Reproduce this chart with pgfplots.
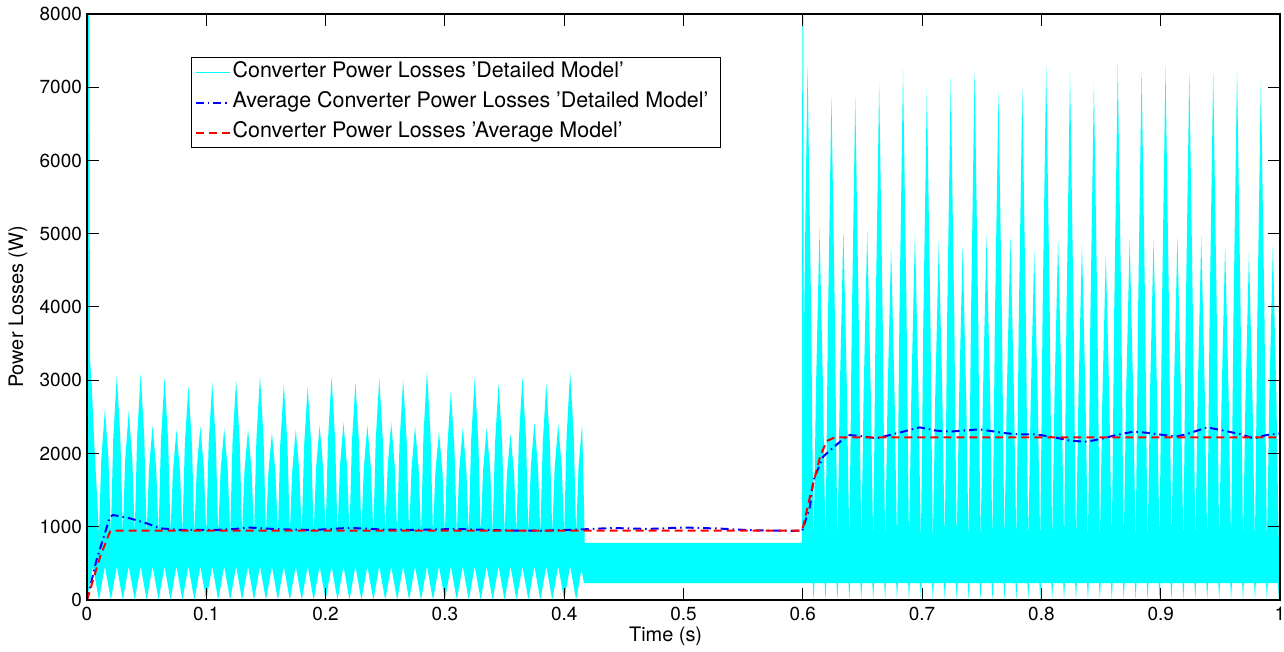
\documentclass[border=0pt]{standalone}
\usepackage{fontspec}
\setmainfont{TeX Gyre Heros}
\usepackage{pgfplots}
\usepackage{pgfplotstable}
\pgfplotsset{compat=1.18}
\usepgfplotslibrary{fillbetween}
\definecolor{scopecyan}{RGB}{0,255,255}

% Upper envelope of the switched converter loss signal (W)
\pgfplotstableread{
t p
0 8600
0.0018 8600
0.0025 3300
0.004 2900
0.0065 2000
0.0085 1400
0.010 900
0.012 1922
0.015 2603
0.018 1922
0.020 900
0.022 2203
0.025 3072
0.028 2203
0.030 900
0.032 1908
0.035 2580
0.038 1908
0.040 900
0.042 2216
0.045 3094
0.048 2216
0.050 900
0.052 1791
0.055 2385
0.058 1791
0.060 900
0.062 2184
0.065 3040
0.068 2184
0.070 900
0.072 1753
0.075 2321
0.078 1753
0.080 900
0.082 2116
0.085 2926
0.088 2116
0.090 900
0.092 1783
0.095 2371
0.098 1783
0.100 900
0.102 2143
0.105 2972
0.108 2143
0.110 900
0.112 1766
0.115 2344
0.118 1766
0.120 900
0.122 2162
0.125 3003
0.128 2162
0.130 900
0.132 1760
0.135 2334
0.138 1760
0.140 900
0.142 2195
0.145 3058
0.148 2195
0.150 900
0.152 1731
0.155 2285
0.158 1731
0.160 900
0.162 2129
0.165 2949
0.168 2129
0.170 900
0.172 1753
0.175 2321
0.178 1753
0.180 900
0.182 2107
0.185 2912
0.188 2107
0.190 900
0.192 1791
0.195 2385
0.198 1791
0.200 900
0.202 2189
0.205 3049
0.208 2189
0.210 900
0.212 1813
0.215 2421
0.218 1813
0.220 900
0.222 2140
0.225 2967
0.228 2140
0.230 900
0.232 1793
0.235 2389
0.238 1793
0.240 900
0.242 2176
0.245 3026
0.248 2176
0.250 900
0.252 1813
0.255 2421
0.258 1813
0.260 900
0.262 2162
0.265 3003
0.268 2162
0.270 900
0.272 1785
0.275 2375
0.278 1785
0.280 900
0.282 2236
0.285 3126
0.288 2236
0.290 900
0.292 1739
0.295 2298
0.298 1739
0.300 900
0.302 2072
0.305 2853
0.308 2072
0.310 900
0.312 1771
0.315 2352
0.318 1771
0.320 900
0.322 2181
0.325 3035
0.328 2181
0.330 900
0.332 1771
0.335 2352
0.338 1771
0.340 900
0.342 2135
0.345 2958
0.348 2135
0.350 900
0.352 1720
0.355 2266
0.358 1720
0.360 900
0.362 2189
0.365 3049
0.368 2189
0.370 900
0.372 1813
0.375 2421
0.378 1813
0.380 900
0.382 2135
0.385 2958
0.388 2135
0.390 900
0.392 1802
0.395 2403
0.398 1802
0.400 900
0.402 2230
0.405 3117
0.408 2230
0.410 900
0.412 1802
0.415 2403
0.4163 1500
0.4172 780
0.5993 780
0.5996 8600
0.6004 8600
0.6008 1500
0.6012 3922
0.6025 5613
0.604 7304
0.6055 5613
0.607 3922
0.608 2231
0.609 800
0.610 1738
0.611 2847
0.6125 3956
0.614 5065
0.6155 3956
0.617 2847
0.618 1738
0.619 800
0.620 2141
0.621 3725
0.6225 5310
0.624 6894
0.6255 5310
0.627 3725
0.628 2141
0.629 800
0.630 1735
0.631 2840
0.6325 3946
0.634 5051
0.6355 3946
0.637 2840
0.638 1735
0.639 800
0.640 2134
0.641 3710
0.6425 5287
0.644 6863
0.6455 5287
0.647 3710
0.648 2134
0.649 800
0.650 1729
0.651 2828
0.6525 3926
0.654 5024
0.6555 3926
0.657 2828
0.658 1729
0.659 800
0.660 2176
0.661 3802
0.6625 5428
0.664 7054
0.6655 5428
0.667 3802
0.668 2176
0.669 800
0.670 1683
0.671 2727
0.6725 3771
0.674 4815
0.6755 3771
0.677 2727
0.678 1683
0.679 800
0.680 2216
0.681 3889
0.6825 5562
0.684 7235
0.6855 5562
0.687 3889
0.688 2216
0.689 800
0.690 1725
0.691 2819
0.6925 3912
0.694 5006
0.6955 3912
0.697 2819
0.698 1725
0.699 800
0.700 2163
0.701 3773
0.7025 5384
0.704 6994
0.7055 5384
0.707 3773
0.708 2163
0.709 800
0.710 1703
0.711 2770
0.7125 3838
0.714 4905
0.7155 3838
0.717 2770
0.718 1703
0.719 800
0.720 2191
0.721 3835
0.7225 5478
0.724 7122
0.7255 5478
0.727 3835
0.728 2191
0.729 800
0.730 1690
0.731 2742
0.7325 3794
0.734 4846
0.7355 3794
0.737 2742
0.738 1690
0.739 800
0.740 2218
0.741 3893
0.7425 5569
0.744 7244
0.7455 5569
0.747 3893
0.748 2218
0.749 800
0.750 1717
0.751 2801
0.7525 3885
0.754 4969
0.7555 3885
0.757 2801
0.758 1717
0.759 800
0.760 2153
0.761 3752
0.7625 5350
0.764 6949
0.7655 5350
0.767 3752
0.768 2153
0.769 800
0.770 1722
0.771 2812
0.7725 3902
0.774 4992
0.7755 3902
0.777 2812
0.778 1722
0.779 800
0.780 2164
0.781 3776
0.7825 5387
0.784 6999
0.7855 5387
0.787 3776
0.788 2164
0.789 800
0.790 1668
0.791 2695
0.7925 3721
0.794 4747
0.7955 3721
0.797 2695
0.798 1668
0.799 800
0.800 2231
0.801 3922
0.8025 5613
0.804 7304
0.8055 5613
0.807 3922
0.808 2231
0.809 800
0.810 1712
0.811 2790
0.8125 3868
0.814 4946
0.8155 3868
0.817 2790
0.818 1712
0.819 800
0.820 2210
0.821 3876
0.8225 5542
0.824 7208
0.8255 5542
0.827 3876
0.828 2210
0.829 800
0.830 1693
0.831 2749
0.8325 3804
0.834 4860
0.8355 3804
0.837 2749
0.838 1693
0.839 800
0.840 2177
0.841 3804
0.8425 5431
0.844 7058
0.8455 5431
0.847 3804
0.848 2177
0.849 800
0.850 1664
0.851 2685
0.8525 3707
0.854 4728
0.8555 3707
0.857 2685
0.858 1664
0.859 800
0.860 2231
0.861 3922
0.8625 5613
0.864 7304
0.8655 5613
0.867 3922
0.868 2231
0.869 800
0.870 1712
0.871 2790
0.8725 3868
0.874 4946
0.8755 3868
0.877 2790
0.878 1712
0.879 800
0.880 2219
0.881 3896
0.8825 5572
0.884 7249
0.8855 5572
0.887 3896
0.888 2219
0.889 800
0.890 1707
0.891 2780
0.8925 3852
0.894 4924
0.8955 3852
0.897 2780
0.898 1707
0.899 800
0.900 2228
0.901 3915
0.9025 5603
0.904 7290
0.9055 5603
0.907 3915
0.908 2228
0.909 800
0.910 1715
0.911 2797
0.9125 3878
0.914 4960
0.9155 3878
0.917 2797
0.918 1715
0.919 800
0.920 2213
0.921 3883
0.9225 5552
0.924 7222
0.9255 5552
0.927 3883
0.928 2213
0.929 800
0.930 1717
0.931 2801
0.9325 3885
0.934 4969
0.9355 3885
0.937 2801
0.938 1717
0.939 800
0.940 2213
0.941 3883
0.9425 5552
0.944 7222
0.9455 5552
0.947 3883
0.948 2213
0.949 800
0.950 1687
0.951 2736
0.9525 3784
0.954 4833
0.9555 3784
0.957 2736
0.958 1687
0.959 800
0.960 2216
0.961 3889
0.9625 5562
0.964 7235
0.9655 5562
0.967 3889
0.968 2216
0.969 800
0.970 1669
0.971 2696
0.9725 3724
0.974 4751
0.9755 3724
0.977 2696
0.978 1669
0.979 800
0.980 2193
0.981 3839
0.9825 5485
0.984 7131
0.9855 5485
0.987 3839
0.988 2193
0.989 800
0.990 1689
0.991 2740
0.9925 3791
0.994 4842
0.9955 3791
0.997 2740
0.998 1689
0.999 800
1.0 1200
}\upperenv

% Lower envelope of the same signal (W)
\pgfplotstableread{
t p
0 0
0.005 460
0.010 0
0.015 460
0.020 0
0.025 460
0.030 0
0.035 460
0.040 0
0.045 460
0.050 0
0.055 460
0.060 0
0.065 460
0.070 0
0.075 460
0.080 0
0.085 460
0.090 0
0.095 460
0.100 0
0.105 460
0.110 0
0.115 460
0.120 0
0.125 460
0.130 0
0.135 460
0.140 0
0.145 460
0.150 0
0.155 460
0.160 0
0.165 460
0.170 0
0.175 460
0.180 0
0.185 460
0.190 0
0.195 460
0.200 0
0.205 460
0.210 0
0.215 460
0.220 0
0.225 460
0.230 0
0.235 460
0.240 0
0.245 460
0.250 0
0.255 460
0.260 0
0.265 460
0.270 0
0.275 460
0.280 0
0.285 460
0.290 0
0.295 460
0.300 0
0.305 460
0.310 0
0.315 460
0.320 0
0.325 460
0.330 0
0.335 460
0.340 0
0.345 460
0.350 0
0.355 460
0.360 0
0.365 460
0.370 0
0.375 460
0.380 0
0.385 460
0.390 0
0.395 460
0.400 0
0.405 460
0.410 0
0.4145 420
0.4165 230
0.6083 230
0.609 0
0.6097 230
0.6183 230
0.619 0
0.6197 230
0.6283 230
0.629 0
0.6297 230
0.6383 230
0.639 0
0.6397 230
0.6483 230
0.649 0
0.6497 230
0.6583 230
0.659 0
0.6597 230
0.6683 230
0.669 0
0.6697 230
0.6783 230
0.679 0
0.6797 230
0.6883 230
0.689 0
0.6897 230
0.6983 230
0.699 0
0.6997 230
0.7083 230
0.709 0
0.7097 230
0.7183 230
0.719 0
0.7197 230
0.7283 230
0.729 0
0.7297 230
0.7383 230
0.739 0
0.7397 230
0.7483 230
0.749 0
0.7497 230
0.7583 230
0.759 0
0.7597 230
0.7683 230
0.769 0
0.7697 230
0.7783 230
0.779 0
0.7797 230
0.7883 230
0.789 0
0.7897 230
0.7983 230
0.799 0
0.7997 230
0.8083 230
0.809 0
0.8097 230
0.8183 230
0.819 0
0.8197 230
0.8283 230
0.829 0
0.8297 230
0.8383 230
0.839 0
0.8397 230
0.8483 230
0.849 0
0.8497 230
0.8583 230
0.859 0
0.8597 230
0.8683 230
0.869 0
0.8697 230
0.8783 230
0.879 0
0.8797 230
0.8883 230
0.889 0
0.8897 230
0.8983 230
0.899 0
0.8997 230
0.9083 230
0.909 0
0.9097 230
0.9183 230
0.919 0
0.9197 230
0.9283 230
0.929 0
0.9297 230
0.9383 230
0.939 0
0.9397 230
0.9483 230
0.949 0
0.9497 230
0.9583 230
0.959 0
0.9597 230
0.9683 230
0.969 0
0.9697 230
0.9783 230
0.979 0
0.9797 230
0.9883 230
0.989 0
0.9897 230
0.9983 230
0.999 0
0.9997 230
1.0 230
}\lowerenv

\begin{document}
\begin{tikzpicture}
\begin{axis}[
  at={(0,0)}, anchor=south west,
  scale only axis, width=1193bp, height=586bp,
  xmin=0, xmax=1, ymin=0, ymax=8000,
  xtick={0,0.1,0.2,0.3,0.4,0.5,0.6,0.7,0.8,0.9,1},
  xticklabels={0,0.1,0.2,0.3,0.4,0.5,0.6,0.7,0.8,0.9,1},
  ytick={0,1000,2000,3000,4000,5000,6000,7000,8000},
  yticklabels={0,1000,2000,3000,4000,5000,6000,7000,8000},
  xtick pos=both, ytick pos=both,
  xticklabel pos=lower, yticklabel pos=left,
  tick align=inside, major tick length=12bp,
  tick style={line width=1bp, black},
  axis line style={line width=1.3bp, black},
  axis on top,
  ticklabel style={font=\fontsize{19}{19}\selectfont},
  xticklabel style={inner sep=0bp, anchor=north, yshift=-7bp},
  yticklabel style={inner sep=0bp, anchor=east, xshift=-5bp},
  label style={font=\fontsize{20}{20}\selectfont},
  xlabel={Time (s)},
  ylabel={Power Losses (W)},
  xlabel style={at={(axis description cs:0.485,-0.0614)}, anchor=center},
  ylabel style={at={(axis description cs:-0.0578,0.5)}, anchor=center, rotate=0},
  legend image code/.code={\draw[#1] (0bp,0bp) -- (34bp,0bp);},
  legend cell align=left,
  legend style={
    at={(0.0872,0.9266)}, anchor=north west,
    draw=black, line width=1.2bp, fill=white,
    font=\fontsize{21.5}{21.5}\selectfont,
    inner xsep=3bp, inner ysep=0bp, row sep=0bp,
    nodes={inner xsep=2bp, inner ysep=4.5bp, text height=15.5bp, text depth=5.5bp},
  },
]
\addlegendimage{scopecyan, line width=1bp}
\addlegendentry{Converter Power Losses 'Detailed Model'}

\addplot[draw=none, name path=upper, forget plot] table[x=t, y=p] {\upperenv};
\addplot[draw=none, name path=lower, forget plot] table[x=t, y=p] {\lowerenv};
\addplot[fill=scopecyan, draw=none, forget plot] fill between[of=upper and lower];

\addplot[blue, line width=2bp, dash pattern=on 8bp off 4bp on 1.5bp off 4bp] coordinates {
(0,0) (0.008,546) (0.0193,1138) (0.022,1160) (0.036,1115) (0.05,1047)
(0.061,979) (0.078,956) (0.106,956) (0.12,965) (0.137,988) (0.162,965)
(0.19,956) (0.22,985) (0.25,960) (0.28,958) (0.31,970) (0.35,950)
(0.38,945) (0.41,960) (0.44,983) (0.47,970) (0.5,990) (0.53,975)
(0.56,950) (0.59,945) (0.5995,946) (0.606,1274) (0.6089,1638) (0.617,1957)
(0.628,2116) (0.638,2253) (0.648,2239) (0.662,2207) (0.684,2298) (0.698,2357)
(0.712,2312) (0.723,2298) (0.748,2330) (0.771,2275) (0.782,2262) (0.795,2262)
(0.811,2221) (0.824,2175) (0.838,2160) (0.852,2207) (0.863,2253) (0.877,2298)
(0.888,2284) (0.902,2253) (0.913,2230) (0.922,2266) (0.939,2357) (0.953,2312)
(0.966,2266) (0.978,2207) (0.989,2253) (1,2275)
};
\addlegendentry{Average Converter Power Losses 'Detailed Model'\hspace*{7bp}}

\addplot[red, line width=2bp, dash pattern=on 8bp off 5bp] coordinates {
(0,0) (0.011,592) (0.0193,933) (0.022,946) (0.5995,946) (0.606,1410)
(0.6145,1957) (0.62,2170) (0.627,2221) (1,2221)
};
\addlegendentry{Converter Power Losses 'Average Model'}
\end{axis}
\pgfresetboundingbox
\path[use as bounding box] (-87bp,-52bp) rectangle (1197bp,600bp);
\end{tikzpicture}
\end{document}
